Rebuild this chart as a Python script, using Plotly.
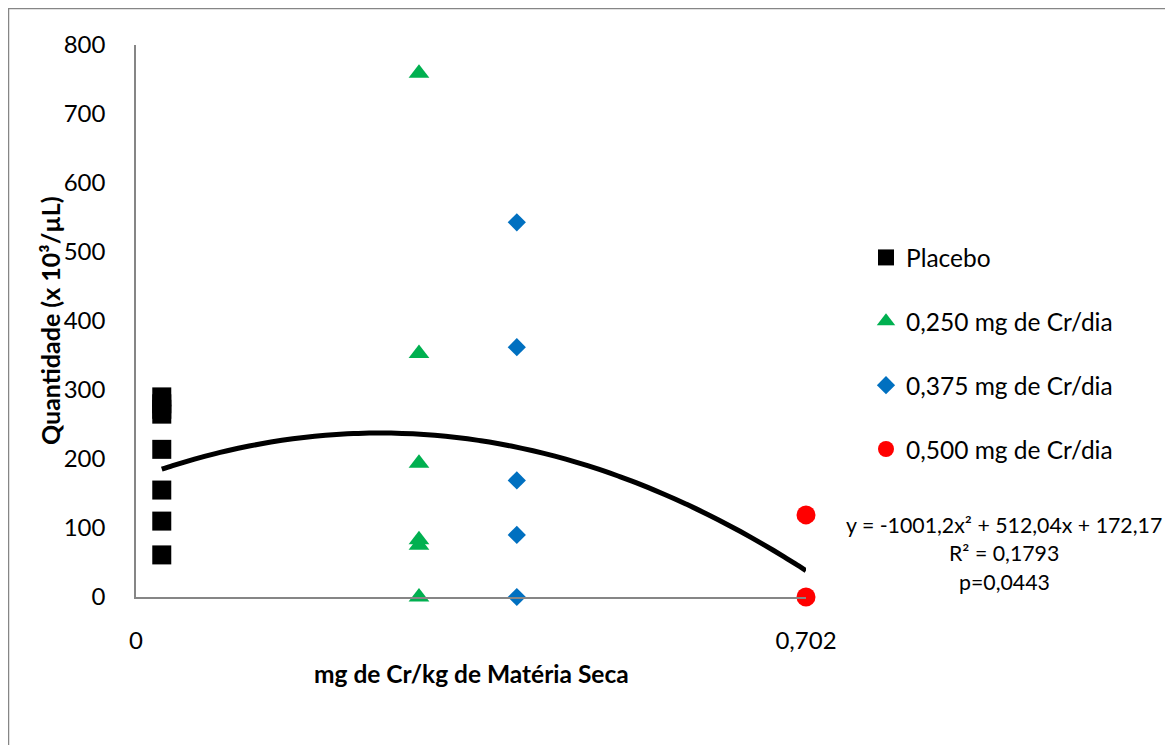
import numpy as np
import plotly.graph_objects as go

# ---- data ----
x_placebo = [0.027] * 8
y_placebo = [61, 110, 155, 214, 265, 272, 280, 290]

x_250 = [0.2965] * 6
y_250 = [759, 353, 194, 83, 75, 0]

x_375 = [0.399] * 5
y_375 = [543, 362, 169, 90, 0]

x_500 = [0.702] * 2
y_500 = [119, 0]

legend_names = ["Placebo", "0,250 mg de Cr/dia", "0,375 mg de Cr/dia", "0,500 mg de Cr/dia"]

# polynomial trendline coefficients (as printed on the chart)
coef_a, coef_b, coef_c = -1001.2, 512.04, 172.17
trend_x_start, trend_x_end = 0.027, 0.702
eq_lines = ["y = -1001,2x² + 512,04x + 172,17", "R² = 0,1793", "p=0,0443"]

x_tickvals = [0, 0.702]
x_ticktext = ["0", "0,702"]
y_tickvals = [0, 100, 200, 300, 400, 500, 600, 700, 800]

FONT = "Lato"
GRAY = "#868686"

# page body adds 8px offset; figure coords = screen coords - 8
OFF = 8
L, R, T, B = 136 - OFF, 806 - OFF, 45 - OFF, 597 - OFF
PW, PH = R - L, B - T


def px(xs):
    return (xs - OFF - L) / PW


def py(ys):
    return (B - (ys - OFF)) / PH


fig = go.Figure()

tx = np.linspace(trend_x_start, trend_x_end, 60)
ty = coef_a * tx**2 + coef_b * tx + coef_c
fig.add_trace(go.Scatter(x=tx, y=ty, mode="lines",
                         line=dict(color="black", width=5, shape="spline", simplify=False),
                         showlegend=False, hoverinfo="skip", cliponaxis=False))

series = [
    (x_placebo, y_placebo, "square", 19, "#000000"),
    (x_250, y_250, "triangle-up", 18, "#00B050"),
    (x_375, y_375, "diamond", 14, "#0070C0"),
    (x_500, y_500, "circle", 19, "#FF0000"),
]
for (xs, ys, sym, sz, col), name in zip(series, legend_names):
    fig.add_trace(go.Scatter(x=xs, y=ys, mode="markers", name=name, legendgroup=name,
                             marker=dict(symbol=sym, size=sz, color=col, line=dict(width=0)),
                             cliponaxis=False))

fig.update_layout(
    width=1173, height=745,
    margin=dict(l=L, r=1173 - R, t=T, b=745 - B),
    paper_bgcolor="white", plot_bgcolor="white",
    font=dict(family=FONT, size=24, color="black"),
    showlegend=True,
    legend=dict(x=px(866), y=py(235), xanchor="left", yanchor="top",
                font=dict(family=FONT, size=24.5, color="black"),
                tracegroupgap=29, bgcolor="rgba(0,0,0,0)"),
    xaxis=dict(range=[0, 0.702], tickvals=x_tickvals, ticktext=x_ticktext,
               showgrid=False, zeroline=False, showline=True, linecolor=GRAY, linewidth=1.5,
               ticks="", ticklabelstandoff=21, tickfont=dict(family=FONT, size=24)),
    yaxis=dict(range=[0, 800], tickvals=y_tickvals,
               showgrid=False, zeroline=False, showline=True, linecolor=GRAY, linewidth=1.5,
               ticks="", ticklabelstandoff=24, tickfont=dict(family=FONT, size=24)),
    shapes=[dict(type="rect", xref="paper", yref="paper",
                 x0=px(8.5), x1=px(1171),
                 y0=py(760), y1=py(8.5),
                 line=dict(color=GRAY, width=1.5), fillcolor="rgba(0,0,0,0)", layer="below")],
)

annotations = [
    dict(text="<b>mg de Cr/kg de Matéria Seca</b>", xref="paper", yref="paper",
         x=px(471), y=py(673), xanchor="center", yanchor="middle", showarrow=False,
         font=dict(family=FONT, size=24.5)),
    dict(text="<b>Quantidade (x 10³/µL)</b>", xref="paper", yref="paper",
         x=px(50), y=py(321), xanchor="center", yanchor="middle", textangle=-90,
         showarrow=False, font=dict(family=FONT, size=25)),
]
for line_text, ypix in zip(eq_lines, [525, 553, 582]):
    annotations.append(dict(text=line_text, xref="paper", yref="paper",
                            x=px(1004), y=py(ypix),
                            xanchor="center", yanchor="middle", showarrow=False,
                            font=dict(family=FONT, size=21.3)))
fig.update_layout(annotations=annotations)

fig.write_html("out.html")
